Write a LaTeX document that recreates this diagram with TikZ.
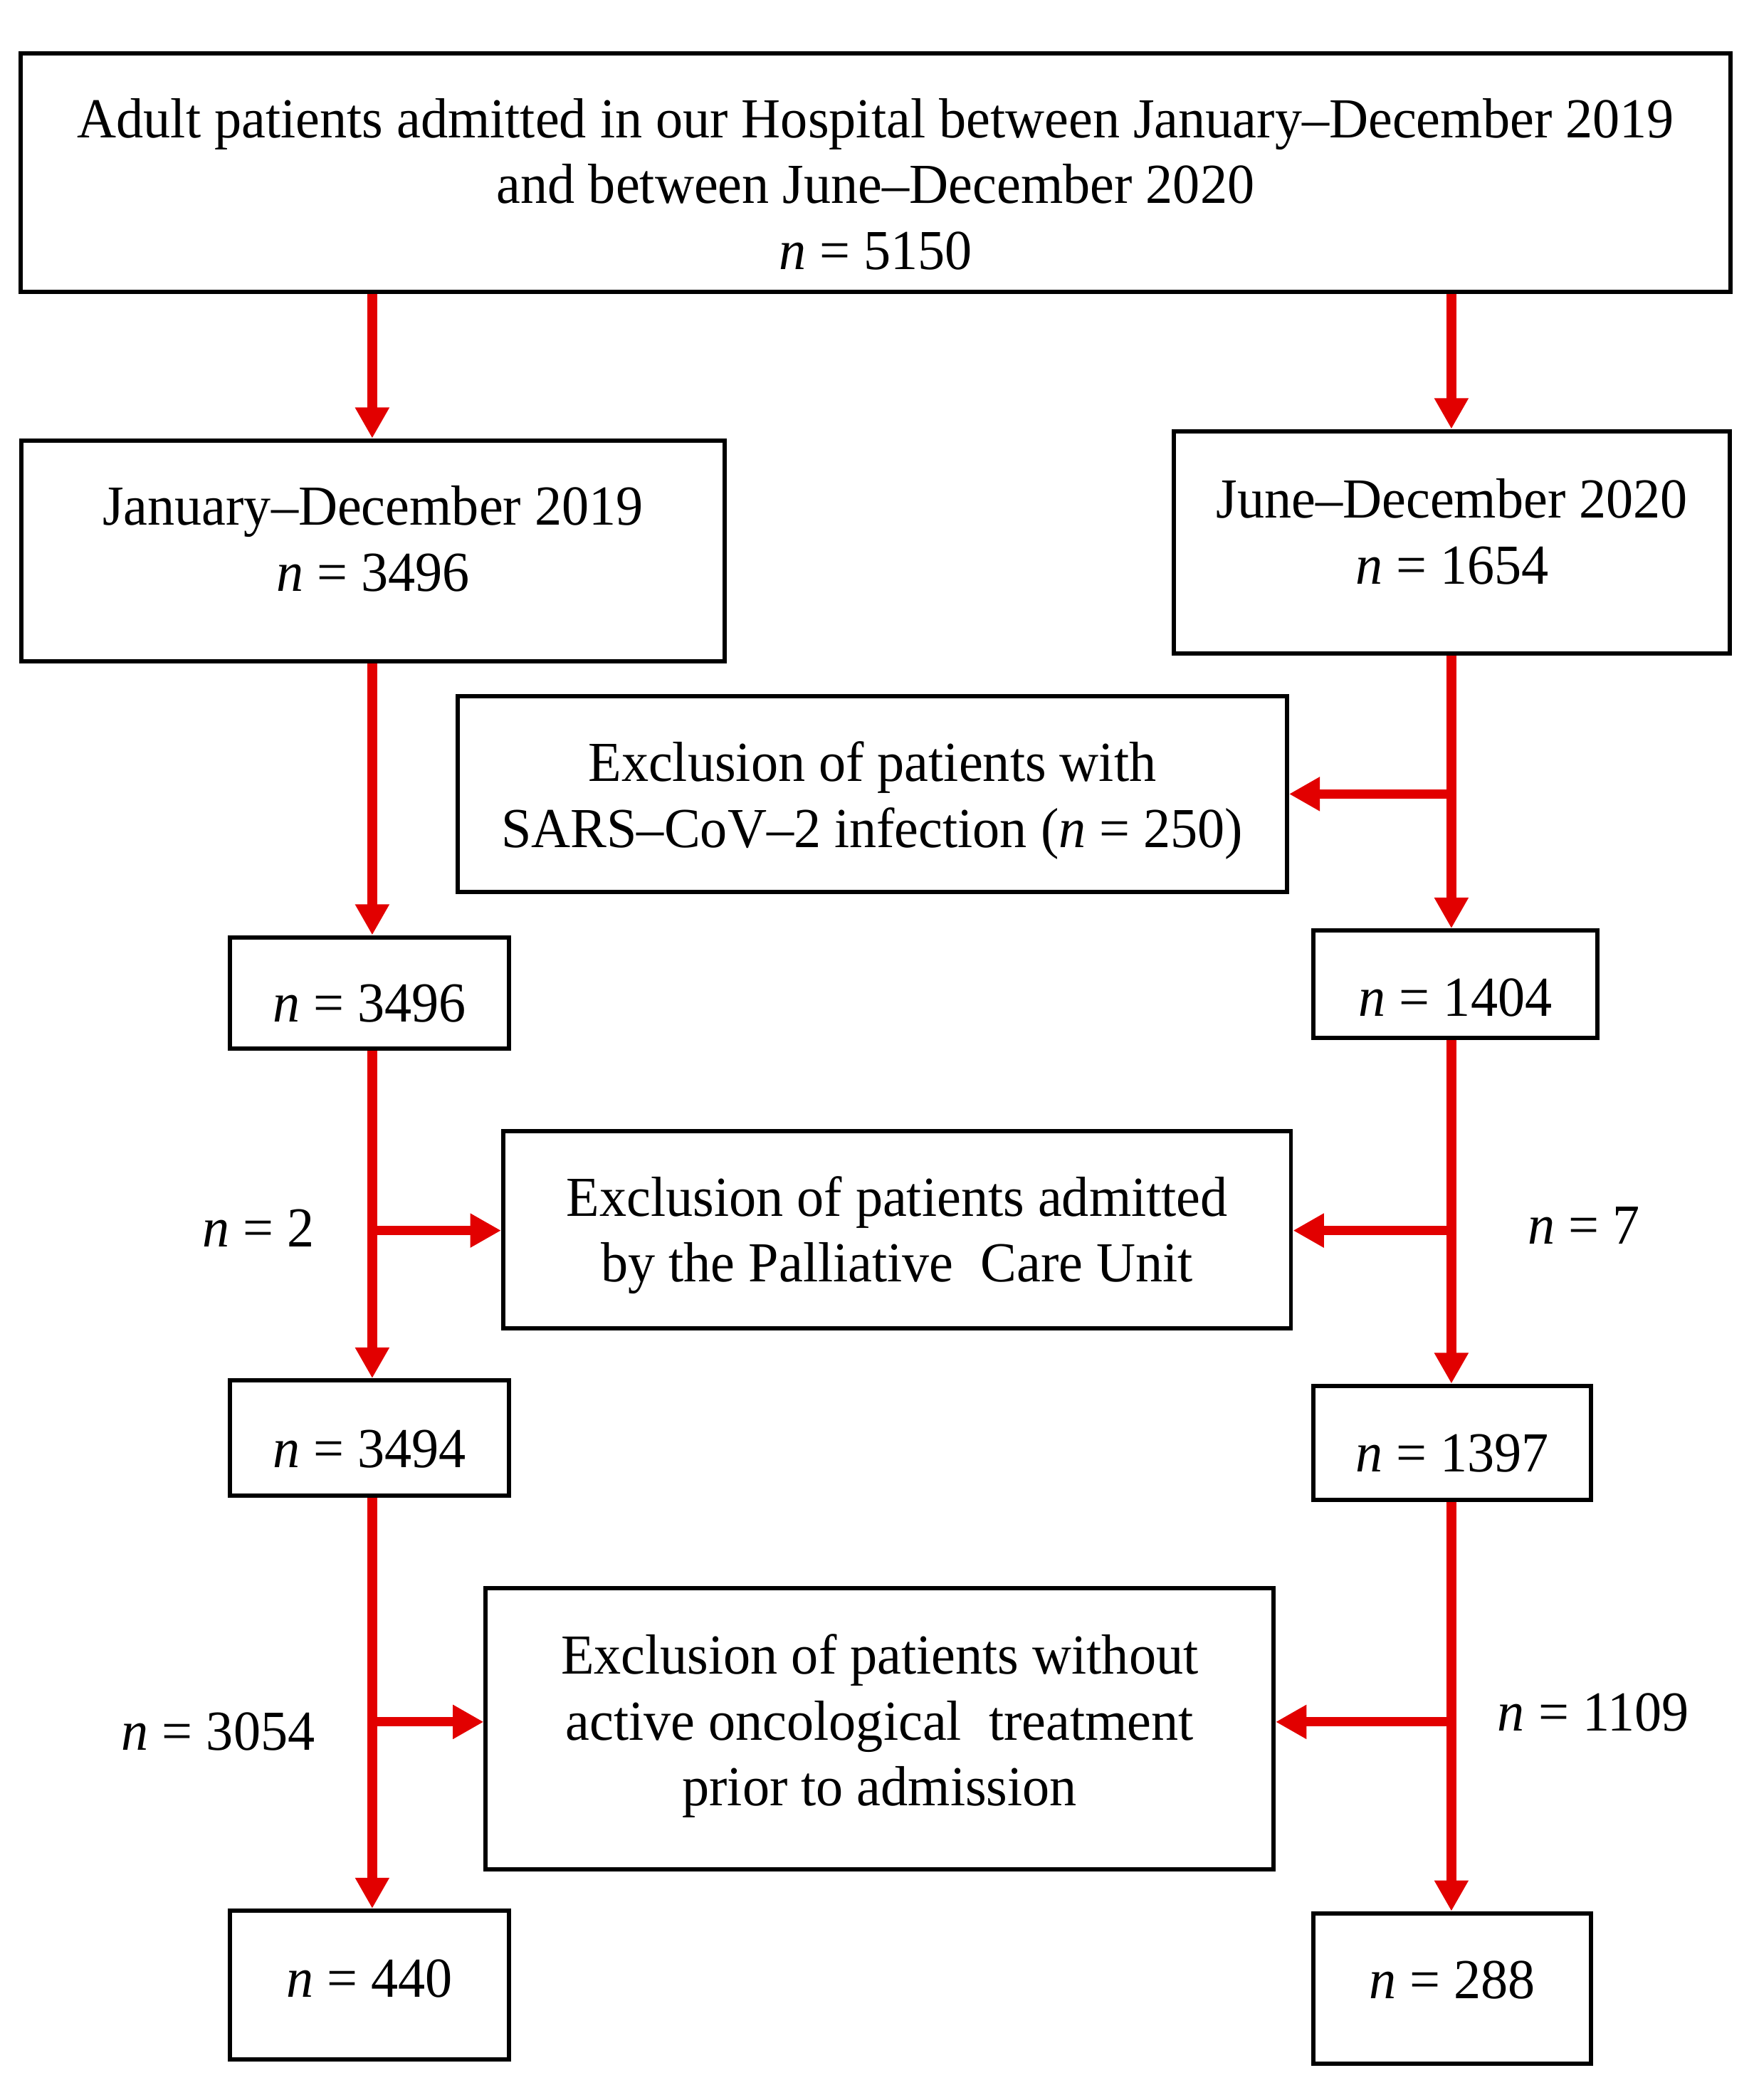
\documentclass[tikz,border=0pt]{standalone}
\usepackage{fontspec}
\setmainfont[FakeStretch=0.96]{Liberation Serif}
\usetikzlibrary{arrows.meta,positioning}
\definecolor{arrowred}{RGB}{226,0,0}
\newcommand{\nn}[1]{\textit{n} = #1}
\tikzstyle{box} = [rectangle, draw, line width=0.9pt, inner sep=0pt]
\tikzstyle{txt} = [align=center, inner sep=0pt, font=\fontsize{12}{14}\selectfont]
\tikzstyle{count} = [font=\fontsize{12}{14}\selectfont]
\tikzstyle{line} = [draw, arrowred, line width=2pt, -{Triangle[length=0.23cm, width=0.24cm]}]

\begin{document}
\begin{tikzpicture}[x=0.01cm, y=-0.01cm]
        \useasboundingbox (0,0) rectangle (1310,1568.4);
        \coordinate (colL) at (278,0);
        \coordinate (colR) at (1084,0);

        % boxes, text placed inside each one
        \node [box, minimum width=12.76cm, minimum height=1.78cm, label={[txt, yshift=-0.085cm]center:Adult patients admitted in our Hospital between January--December 2019\\and between June--December 2020\\\nn{5150}}] (top) at (654,129) {};
        \node [box, minimum width=5.25cm, minimum height=1.65cm, label={[txt, yshift=0.09cm]center:January--December 2019\\\nn{3496}}] (l1) at (278.5,411.5) {};
        \node [box, minimum width=4.15cm, minimum height=1.66cm, label={[txt, yshift=0.08cm]center:June--December 2020\\\nn{1654}}] (r1) at (1084.5,405) {};
        \node [box, minimum width=6.19cm, minimum height=1.46cm, label={[txt, yshift=-0.05cm]center:Exclusion of patients with\\SARS--CoV--2 infection (\nn{250})}] (ex1) at (651.5,593) {};
        \node [box, minimum width=2.08cm, minimum height=0.83cm, label={[txt, yshift=-0.08cm]center:\nn{3496}}] (l2) at (276,741.5) {};
        \node [box, minimum width=2.12cm, minimum height=0.80cm, label={[txt, yshift=-0.10cm]center:\nn{1404}}] (r2) at (1087,735) {};
        \node [box, minimum width=5.88cm, minimum height=1.47cm, label={[txt, yshift=-0.04cm]center:Exclusion of patients admitted\\by the Palliative\ \ Care Unit}] (ex2) at (670,918.5) {};
        \node [box, minimum width=2.08cm, minimum height=0.86cm, label={[txt, yshift=-0.08cm]center:\nn{3494}}] (l3) at (276,1074) {};
        \node [box, minimum width=2.07cm, minimum height=0.85cm, label={[txt, yshift=-0.08cm]center:\nn{1397}}] (r3) at (1084.5,1077.5) {};
        \node [box, minimum width=5.88cm, minimum height=2.10cm, label={[txt, yshift=0.02cm]center:Exclusion of patients without\\active oncological\ \ treatment\\prior to admission}] (ex3) at (657,1291) {};
        \node [box, minimum width=2.08cm, minimum height=1.11cm, label={[txt, yshift=0.05cm]center:\nn{440}}] (l4) at (276,1482.5) {};
        \node [box, minimum width=2.07cm, minimum height=1.12cm, label={[txt, yshift=0.06cm]center:\nn{288}}] (r4) at (1084.5,1485) {};

        % counts beside the branches
        \node [count] (c2) at (193,917) {\nn{2}};
        \node [count] (c7) at (1183,915) {\nn{7}};
        \node [count] (c3054) at (163,1293) {\nn{3054}};
        \node [count] (c1109) at (1190,1279) {\nn{1109}};

        \coordinate (bR1) at (1084,593);
        \coordinate (bL2) at (278,919);
        \coordinate (bR2) at (1084,919);
        \coordinate (bL3) at (278,1286);
        \coordinate (bR3) at (1084,1286);

        \path [line] (top.south -| colL) -- (l1.north -| colL);
        \path [line] (top.south -| colR) -- (r1.north -| colR);
        \path [line] (l1.south -| colL) -- (l2.north -| colL);
        \path [line] (r1.south -| colR) -- (r2.north -| colR);
        \path [line] (bR1) -- (bR1 -| ex1.east);
        \path [line] (l2.south -| colL) -- (l3.north -| colL);
        \path [line] (r2.south -| colR) -- (r3.north -| colR);
        \path [line] (bL2) -- (bL2 -| ex2.west);
        \path [line] (bR2) -- (bR2 -| ex2.east);
        \path [line] (l3.south -| colL) -- (l4.north -| colL);
        \path [line] (r3.south -| colR) -- (r4.north -| colR);
        \path [line] (bL3) -- (bL3 -| ex3.west);
        \path [line] (bR3) -- (bR3 -| ex3.east);
      \end{tikzpicture}
\end{document}
